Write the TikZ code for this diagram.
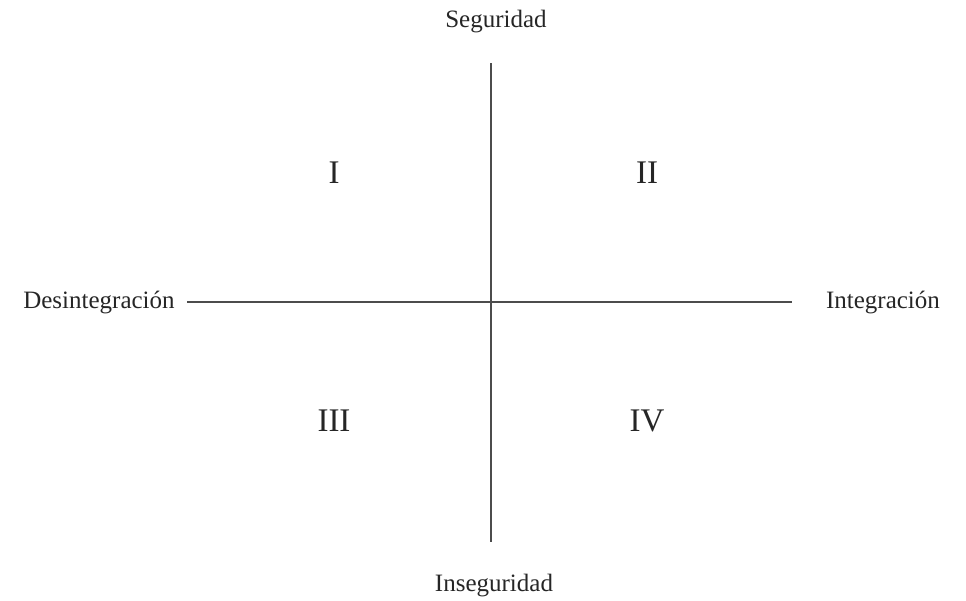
\documentclass[tikz,border=0pt]{standalone}
\usepackage{fontspec}
\setmainfont{Liberation Serif}
\usepackage{tikz}
\usetikzlibrary{positioning, calc}

\tikzset{
	axislbl/.style={anchor=base, inner sep=0pt, text=black!85, font=\fontsize{12.5}{15}\selectfont},
	quadlbl/.style={anchor=base, inner sep=0pt, text=black!85, font=\fontsize{16.5}{19}\selectfont},
	axisline/.style={draw=black!70, line width=0.75pt}
}

\begin{document}
\begin{tikzpicture}[x=0.5pt, y=-0.5pt]
		\useasboundingbox (0,0) rectangle (966,601);
		% ejes
		\foreach \n/\x/\y/\t in {seg/496/27/Seguridad, inseg/494/591/Inseguridad, desint/99/308/Desintegración, integ/883/308/Integración}{\node[axislbl] (\n) at (\x,\y){\t};}
		\foreach \n/\x/\y in {top/491/63, bot/491/542, lft/187/302, rgt/792/302}{\coordinate (\n) at (\x,\y);}
		\draw[axisline] (top)--(bot);
		\draw[axisline] (lft)--(rgt);
		% cuadrantes
		\foreach \n/\x/\y/\t in {q1/334/183/I, q2/647/183/II, q3/334/431/III, q4/647/431/IV}{\node[quadlbl] (\n) at (\x,\y){\t};}
	\end{tikzpicture}
\end{document}
